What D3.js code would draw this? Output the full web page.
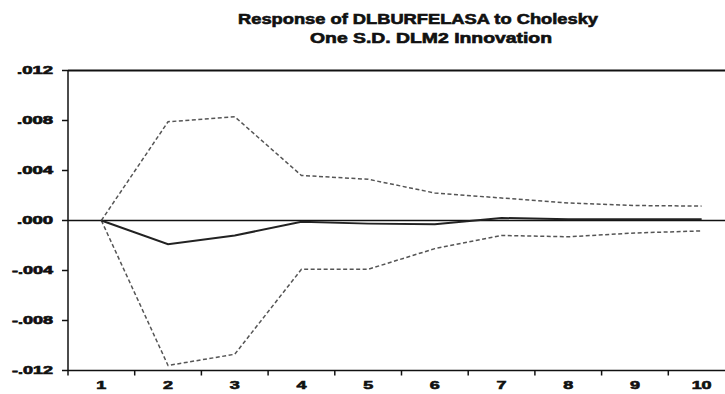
<!DOCTYPE html>
<html>
<head>
<meta charset="utf-8">
<script src="https://cdn.jsdelivr.net/npm/d3@7"></script>
<style>
  html, body { margin: 0; padding: 0; background: #fff; }
  svg { display: block; }
  text { font-family: "Liberation Sans", Arial, sans-serif; font-weight: bold; fill: #111; stroke: #111; stroke-width: 0.6px; }
</style>
</head>
<body>
<svg id="chart" width="725" height="394"></svg>
<script>
// Impulse response periods
const periods = ["1", "2", "3", "4", "5", "6", "7", "8", "9", "10"];
// Response of DLBURFELASA to one S.D. DLM2 innovation
const response = [0.0000, -0.0019, -0.0012, -0.0001, -0.00025, -0.0003, 0.0002, 0.0001, 0.0001, 0.0001];
// +/- 2 S.E. bands
const upperBand = [0.0000, 0.0079, 0.0083, 0.0036, 0.0033, 0.0022, 0.0018, 0.0014, 0.0012, 0.00115];
const lowerBand = [0.0000, -0.0116, -0.0107, -0.0039, -0.0039, -0.00225, -0.0012, -0.0013, -0.0010, -0.00083];
// Value axis ticks and their labels
const yTicks = [0.012, 0.008, 0.004, 0.000, -0.004, -0.008, -0.012];
const yTickLabels = [".012", ".008", ".004", ".000", "-.004", "-.008", "-.012"];
const titleLines = ["Response of DLBURFELASA to Cholesky", "One S.D. DLM2 Innovation"];

const svg = d3.select("#chart");
const plotLeft = 68, plotRight = 735, plotTop = 70.5, plotBottom = 370.5;

const x = d3.scaleBand().domain(periods).range([plotLeft, plotRight]);
const y = d3.scaleLinear().domain([-0.012, 0.012]).range([plotBottom, plotTop]);

// Title
svg.append("text").attr("x", 418).attr("y", 24).attr("text-anchor", "middle")
  .attr("font-size", 14).attr("textLength", 360).attr("lengthAdjust", "spacingAndGlyphs")
  .text(titleLines[0]);
svg.append("text").attr("x", 431).attr("y", 43).attr("text-anchor", "middle")
  .attr("font-size", 14).attr("textLength", 242).attr("lengthAdjust", "spacingAndGlyphs")
  .text(titleLines[1]);

// Frame: top border, left axis, bottom axis
svg.append("line").attr("x1", plotLeft).attr("x2", 725).attr("y1", y(0.012)).attr("y2", y(0.012))
  .attr("stroke", "#111").attr("stroke-width", 2);
svg.append("line").attr("x1", plotLeft).attr("x2", 725).attr("y1", y(-0.012)).attr("y2", y(-0.012))
  .attr("stroke", "#111").attr("stroke-width", 1.5);
svg.append("line").attr("x1", plotLeft).attr("x2", plotLeft).attr("y1", plotTop).attr("y2", plotBottom + 5)
  .attr("stroke", "#111").attr("stroke-width", 1.5);

// Y ticks and labels
const yAxis = svg.append("g");
yTicks.forEach((v, i) => {
  yAxis.append("line").attr("x1", plotLeft - 6).attr("x2", plotLeft).attr("y1", y(v)).attr("y2", y(v))
    .attr("stroke", "#111").attr("stroke-width", 1.5);
  const lab = yTickLabels[i];
  yAxis.append("text").attr("x", 53).attr("y", y(v) + 3).attr("text-anchor", "end")
    .attr("font-size", 10)
    .attr("textLength", lab.startsWith("-") ? 41 : 36).attr("lengthAdjust", "spacingAndGlyphs")
    .text(lab);
});

// X ticks at period boundaries and period labels
periods.forEach((p, i) => {
  if (i > 0) {
    const bx = x(p);
    svg.append("line").attr("x1", bx).attr("x2", bx).attr("y1", plotBottom).attr("y2", plotBottom + 5)
      .attr("stroke", "#111").attr("stroke-width", 1.5);
  }
  svg.append("text").attr("x", x(p) + x.bandwidth() / 2).attr("y", 389).attr("text-anchor", "middle")
    .attr("font-size", 11)
    .attr("textLength", p.length > 1 ? 20 : 10).attr("lengthAdjust", "spacingAndGlyphs")
    .text(p);
});

// Zero line
svg.append("line").attr("x1", plotLeft).attr("x2", 725).attr("y1", y(0)).attr("y2", y(0))
  .attr("stroke", "#111").attr("stroke-width", 1.5);

const cx = i => x(periods[i]) + x.bandwidth() / 2;
const line = d3.line().x((d, i) => cx(i)).y(d => y(d));

// Confidence bands
[upperBand, lowerBand].forEach(band => {
  svg.append("path").attr("d", line(band)).attr("fill", "none")
    .attr("stroke", "#555").attr("stroke-width", 1.5).attr("stroke-dasharray", "4,2.5");
});

// Impulse response
svg.append("path").attr("d", line(response)).attr("fill", "none")
  .attr("stroke", "#222").attr("stroke-width", 2);
</script>
</body>
</html>
